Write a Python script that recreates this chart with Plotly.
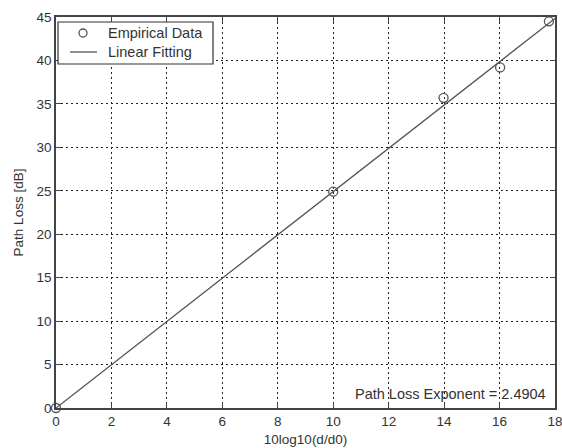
import plotly.graph_objects as go

# Measured path loss vs. normalised log distance
x_emp = [0, 10, 13.98, 16.02, 17.78]
y_emp = [0, 24.9, 35.7, 39.2, 44.5]

# Least-squares slope through the origin (path loss exponent)
exponent = 2.4904
x_fit = [0, 18]
y_fit = [exponent * v for v in x_fit]

x_ticks = [0, 2, 4, 6, 8, 10, 12, 14, 16, 18]
y_ticks = [0, 5, 10, 15, 20, 25, 30, 35, 40, 45]

series_names = ["Empirical Data", "Linear Fitting"]

FS = 13.5
TXT = "#333333"
MARK = "#555555"

W, H = 562, 448
ML, MR, MT, MB = 56, 7, 17, 40
PW, PH = W - ML - MR, H - MT - MB


def px(x):
    """Horizontal pixel offset from the plot's left edge -> paper fraction."""
    return x / PW


def py(y):
    """Vertical pixel offset from the plot's top edge -> paper fraction."""
    return 1 - y / PH


fig = go.Figure()
fig.add_trace(go.Scatter(
    x=x_emp, y=y_emp, mode="markers", name=series_names[0],
    marker=dict(symbol="circle-open", size=9, color=MARK, line=dict(width=1.3)),
    cliponaxis=False, showlegend=False,
))
fig.add_trace(go.Scatter(
    x=x_fit, y=y_fit, mode="lines", name=series_names[1],
    line=dict(color=MARK, width=1.3), showlegend=False,
))

axis_common = dict(
    showline=True, linecolor="#444444", linewidth=1.5, mirror="allticks",
    ticks="inside", ticklen=5, tickcolor="#444444", tickwidth=1.3,
    showgrid=True, gridcolor="#222222", gridwidth=1, griddash="2px,3px",
    zeroline=False, tickfont=dict(size=FS, color=TXT), automargin=False,
    ticklabeloverflow="allow",
)

fig.update_xaxes(
    range=[0, 18], tickvals=x_ticks, ticktext=[str(v) for v in x_ticks],
    title=dict(text="10log10(d/d0)", font=dict(size=FS, color=TXT), standoff=7),
    **axis_common,
)
fig.update_yaxes(
    range=[0, 45], tickvals=y_ticks, ticktext=[str(v) for v in y_ticks],
    title=dict(text="Path Loss [dB]", font=dict(size=FS, color=TXT), standoff=10),
    **axis_common,
)

fig.add_annotation(
    x=17.75, y=1.6, xref="x", yref="y", xanchor="right", yanchor="middle",
    text=f"Path Loss Exponent = {exponent}", showarrow=False,
    font=dict(size=FS + 1, color=TXT),
)

# Boxed legend in the upper-left corner
fig.add_shape(type="rect", xref="paper", yref="paper",
              x0=px(2), x1=px(157), y0=py(47), y1=py(5),
              line=dict(color="#333333", width=1.2), fillcolor="white", layer="above")
fig.add_shape(type="circle", xref="paper", yref="paper",
              x0=px(23), x1=px(31), y0=py(20), y1=py(12),
              line=dict(color=MARK, width=1.3), layer="above")
fig.add_shape(type="line", xref="paper", yref="paper",
              x0=px(14), x1=px(41), y0=py(35), y1=py(35),
              line=dict(color=MARK, width=1.3), layer="above")
for name, yc in zip(series_names, [16, 35]):
    fig.add_annotation(
        x=px(50), y=py(yc), xref="paper", yref="paper",
        xanchor="left", yanchor="middle", text=name, showarrow=False,
        font=dict(size=FS + 1, color=TXT),
    )

fig.update_layout(
    width=W, height=H,
    margin=dict(l=ML, r=MR, t=MT, b=MB, autoexpand=False),
    paper_bgcolor="white", plot_bgcolor="white",
    font=dict(family="Liberation Sans, Arial, sans-serif", size=FS, color=TXT),
    showlegend=False,
)

fig.write_html("out.html")
